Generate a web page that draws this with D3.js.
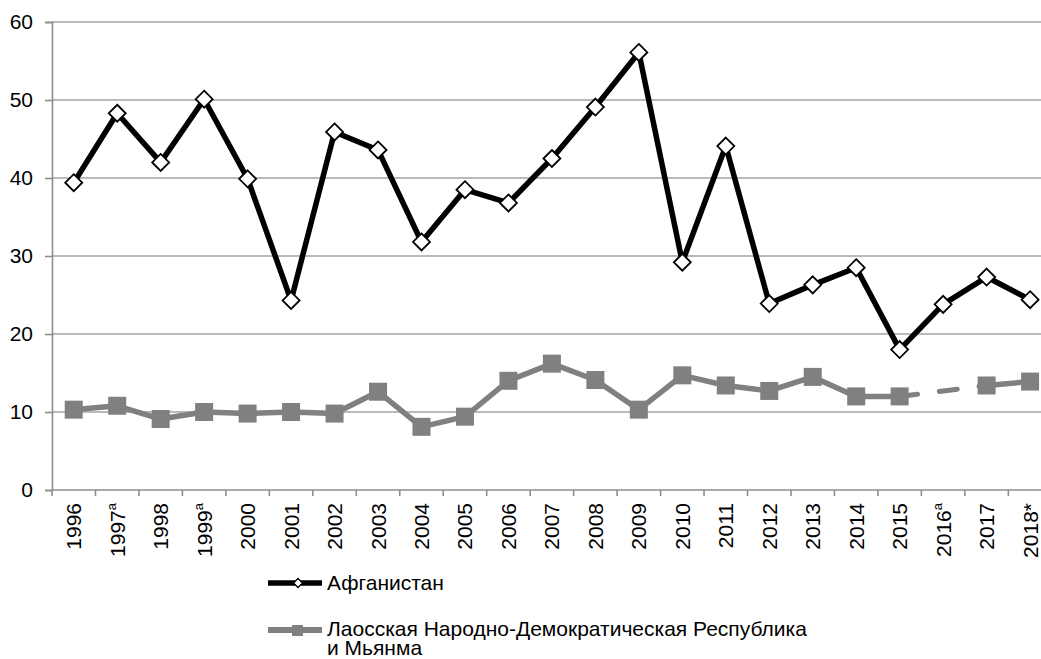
<!DOCTYPE html>
<html>
<head>
<meta charset="utf-8">
<script src="https://cdn.jsdelivr.net/npm/d3@7"></script>
<style>
  html, body { margin: 0; padding: 0; background: #fff; }
  svg { display: block; font-family: Arial, "Liberation Sans", sans-serif; }
</style>
</head>
<body>
<svg id="chart" width="1041" height="659"></svg>
<script>
// ---- data ----
const years = ["1996","1997","1998","1999","2000","2001","2002","2003","2004","2005","2006","2007",
               "2008","2009","2010","2011","2012","2013","2014","2015","2016","2017","2018"];
const yearSuffix = ["","a","","a","","","","","","","","","","","","","","","","","a","","*"];
const afghanistan = [39.4,48.3,42.0,50.1,39.9,24.3,45.9,43.6,31.8,38.5,36.8,42.5,
                     49.1,56.1,29.2,44.1,23.9,26.3,28.5,18.0,23.8,27.3,24.4];
const laosMyanmar = [10.3,10.8,9.1,10.0,9.8,10.0,9.8,12.6,8.1,9.4,14.0,16.2,
                     14.1,10.3,14.7,13.4,12.7,14.5,12.0,12.0,null,13.4,13.9];
const yTicks = [0,10,20,30,40,50,60];
const seriesNames = ["Афганистан", ["Лаосская Народно-Демократическая Республика", "и Мьянма"]];

// ---- layout ----
const svg = d3.select("#chart");
const plotLeft = 52, plotTop = 22, plotBottom = 490;
const band = 43.47;
const plotRight = plotLeft + band * years.length;
const FS = 21;

const x = d3.scaleBand().domain(years).range([plotLeft, plotRight]).padding(0);
const y = d3.scaleLinear().domain([0, 60]).range([plotBottom, plotTop]);
const cx = d => x(d) + x.bandwidth() / 2;

// gridlines
svg.append("g")
  .selectAll("line").data(yTicks.filter(v => v > 0)).join("line")
  .attr("x1", plotLeft).attr("x2", plotRight)
  .attr("y1", d => y(d)).attr("y2", d => y(d))
  .attr("stroke", "#a3a3a3").attr("stroke-width", 1.6);

// y axis
const yAxis = svg.append("g").attr("transform", `translate(${plotLeft},0)`)
  .call(d3.axisLeft(y).tickValues(yTicks).tickSize(7).tickPadding(12).tickFormat(d3.format("d")));
yAxis.select(".domain").attr("stroke", "#8c8c8c").attr("stroke-width", 1.6);
yAxis.selectAll(".tick line").attr("stroke", "#8c8c8c").attr("stroke-width", 1.6);
yAxis.selectAll("text").attr("font-size", FS).attr("fill", "#000")
  .attr("font-family", "Arial, 'Liberation Sans', sans-serif");

// x axis
const xg = svg.append("g");
xg.append("line").attr("x1", plotLeft).attr("x2", plotRight).attr("y1", plotBottom).attr("y2", plotBottom)
  .attr("stroke", "#8c8c8c").attr("stroke-width", 1.6);
xg.selectAll("line.tk").data(years).join("line").attr("class", "tk")
  .attr("x1", d => x(d)).attr("x2", d => x(d))
  .attr("y1", plotBottom).attr("y2", plotBottom + 6)
  .attr("stroke", "#8c8c8c").attr("stroke-width", 1.6);
const lbl = xg.selectAll("text").data(years).join("text")
  .attr("transform", d => `translate(${cx(d) + 7.5},${plotBottom + 13}) rotate(-90)`)
  .attr("text-anchor", "end")
  .attr("font-size", FS).attr("fill", "#000");
lbl.append("tspan").text(d => d);
lbl.filter((d, i) => yearSuffix[i] === "a").append("tspan")
  .attr("font-size", 13).attr("dy", -9).text("a");
lbl.filter((d, i) => yearSuffix[i] === "*").append("tspan").text("*");

// ---- series ----
const afgData = years.map((d, i) => ({ year: d, v: afghanistan[i] }));
const laoData = years.map((d, i) => ({ year: d, v: laosMyanmar[i] }));
const line = d3.line().defined(d => d.v !== null).x(d => cx(d.year)).y(d => y(d.v));

// Laos / Myanmar (gray) - dashed bridge over missing values
const gapSegs = [];
laoData.forEach((d, i) => {
  if (d.v === null) {
    let a = i - 1; while (a >= 0 && laoData[a].v === null) a--;
    let b = i + 1; while (b < laoData.length && laoData[b].v === null) b++;
    if (a >= 0 && b < laoData.length && !gapSegs.some(s => s[0] === laoData[a])) gapSegs.push([laoData[a], laoData[b]]);
  }
});
svg.append("g").selectAll("path").data(gapSegs).join("path")
  .attr("d", s => line(s))
  .attr("fill", "none").attr("stroke", "#808080").attr("stroke-width", 5)
  .attr("stroke-dasharray", "18,22").attr("stroke-linecap", "round");
svg.append("path").datum(laoData).attr("d", line)
  .attr("fill", "none").attr("stroke", "#808080").attr("stroke-width", 5.5)
  .attr("stroke-linejoin", "round");
svg.append("g").selectAll("rect").data(laoData.filter(d => d.v !== null)).join("rect")
  .attr("x", d => cx(d.year) - 9).attr("y", d => y(d.v) - 9)
  .attr("width", 18).attr("height", 18).attr("fill", "#808080");

// Afghanistan (black)
svg.append("path").datum(afgData).attr("d", line)
  .attr("fill", "none").attr("stroke", "#000").attr("stroke-width", 5.5)
  .attr("stroke-linejoin", "round");
const diamond = "M0,-8.5L8.5,0L0,8.5L-8.5,0Z";
svg.append("g").selectAll("path").data(afgData).join("path")
  .attr("transform", d => `translate(${cx(d.year)},${y(d.v)})`)
  .attr("d", diamond).attr("fill", "#fff").attr("stroke", "#000").attr("stroke-width", 1.8);

// ---- legend ----
const lg = svg.append("g");
lg.append("line").attr("x1", 268).attr("x2", 322).attr("y1", 583).attr("y2", 583)
  .attr("stroke", "#000").attr("stroke-width", 5.5);
lg.append("path").attr("transform", "translate(298,583)").attr("d", "M0,-4.5L4.5,0L0,4.5L-4.5,0Z")
  .attr("fill", "#fff").attr("stroke", "#000").attr("stroke-width", 1.3);
lg.append("text").attr("x", 327).attr("y", 590).attr("font-size", FS).text(seriesNames[0]);

lg.append("line").attr("x1", 268).attr("x2", 322).attr("y1", 630).attr("y2", 630)
  .attr("stroke", "#808080").attr("stroke-width", 6);
lg.append("rect").attr("x", 292).attr("y", 625).attr("width", 11).attr("height", 11).attr("fill", "#808080");
lg.selectAll("text.l2").data(seriesNames[1]).join("text").attr("class", "l2")
  .attr("x", 327).attr("y", (d, i) => 636 + i * 19).attr("font-size", FS).text(d => d);
</script>
</body>
</html>
